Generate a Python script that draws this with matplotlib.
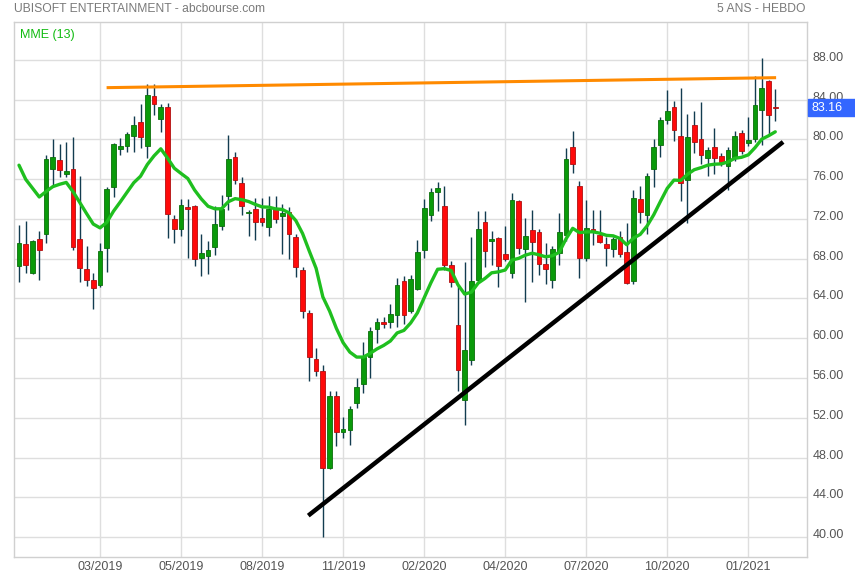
import numpy as np
import matplotlib
matplotlib.use("Agg")
import matplotlib.pyplot as plt
from matplotlib.patches import Rectangle
from matplotlib.transforms import ScaledTranslation

plt.rcParams["font.family"] = ["Liberation Sans", "DejaVu Sans"]

# weekly candles, Ubisoft, Dec 2018 -> Feb 2021
opens = [67.3, 69.5, 66.6, 70.0, 70.5, 77.0, 77.9, 76.5, 77.0, 70.0,
         67.0, 65.9, 65.4, 69.1, 75.2, 79.0, 79.3, 80.3, 81.7, 79.3,
         84.35, 82.0, 83.3, 72.0, 71.0, 73.2, 73.3, 68.05, 68.3, 69.2,
         71.3, 74.3, 78.2, 75.6, 72.6, 73.0, 72.1, 71.2, 73.0, 72.3,
         72.7, 70.2, 66.9, 62.5, 57.9, 56.7, 47.0, 54.2, 50.55, 50.8,
         53.5, 55.4, 58.1, 60.9, 61.6, 61.6, 62.3, 65.8, 62.7, 65.0,
         68.9, 72.4, 74.7, 73.3, 67.35, 61.3, 53.8, 57.8, 65.9, 71.7,
         69.8, 70.1, 68.45, 66.55, 73.8, 68.95, 70.9, 70.7, 67.45, 65.9,
         68.55, 70.4, 79.2, 75.3, 68.05, 71.0, 70.4, 69.45, 68.95, 70.2,
         68.65, 65.8, 74.0, 72.35, 77.0, 79.4, 81.9, 83.25, 80.3, 75.95,
         81.4, 80.0, 78.1, 79.2, 78.3, 77.3, 78.1, 80.6, 79.6, 80.0,
         83.0, 85.85, 83.25]
highs = [71.4, 71.8, 69.9, 70.8, 78.4, 80.0, 79.5, 79.75, 80.25, 76.3,
         69.3, 66.6, 69.6, 75.2, 79.6, 80.1, 80.75, 82.3, 83.6, 85.6,
         85.55, 83.6, 83.7, 72.4, 74.0, 74.0, 73.4, 70.5, 69.8, 73.3,
         74.4, 80.4, 78.7, 76.2, 72.9, 74.1, 74.15, 74.3, 74.3, 73.5,
         73.2, 70.5, 67.2, 62.8, 59.0, 57.3, 54.7, 54.7, 52.1, 53.2,
         56.0, 59.6, 61.1, 62.0, 62.1, 63.4, 66.1, 66.3, 66.4, 69.9,
         74.0, 75.1, 75.7, 75.3, 67.8, 65.3, 67.65, 70.2, 72.8, 72.8,
         70.8, 70.2, 71.3, 74.6, 73.9, 72.1, 72.85, 71.0, 69.55, 69.3,
         72.6, 79.1, 80.8, 75.8, 73.9, 72.9, 72.9, 70.2, 70.2, 70.8,
         71.6, 74.9, 75.3, 76.6, 80.0, 82.2, 85.0, 83.85, 85.15, 82.5,
         82.9, 83.75, 79.2, 81.1, 78.6, 79.2, 80.8, 80.9, 82.2, 86.4,
         88.15, 85.95, 85.1]
lows = [65.7, 66.6, 66.5, 65.9, 69.6, 75.4, 76.2, 76.2, 68.9, 65.7,
        65.3, 62.9, 65.2, 66.7, 74.25, 78.4, 78.7, 78.7, 79.1, 78.1,
        82.4, 80.7, 70.1, 69.6, 70.3, 68.05, 67.3, 66.3, 66.5, 68.4,
        70.9, 72.9, 75.5, 72.4, 70.3, 69.9, 71.3, 70.3, 71.6, 68.5,
        68.0, 66.2, 62.0, 55.7, 56.25, 40.0, 46.8, 49.2, 50.0, 49.3,
        53.0, 54.5, 56.0, 59.5, 61.0, 61.0, 61.1, 61.4, 62.5, 64.8,
        68.05, 71.8, 72.8, 66.9, 65.2, 54.7, 51.25, 57.3, 65.6, 67.2,
        67.35, 65.2, 67.8, 66.1, 68.5, 63.6, 65.7, 66.4, 65.5, 65.1,
        67.35, 69.8, 76.6, 66.1, 67.75, 69.4, 69.55, 67.25, 68.15, 68.15,
        65.5, 65.5, 71.6, 70.5, 75.25, 78.2, 81.5, 79.8, 73.75, 71.6,
        78.6, 77.5, 76.35, 76.5, 77.3, 74.9, 77.8, 78.5, 79.3, 79.7,
        79.4, 80.5, 81.8]
closes = [69.6, 67.4, 69.8, 68.9, 78.0, 78.2, 76.9, 76.8, 69.2, 67.1,
          65.9, 65.1, 68.8, 75.0, 79.5, 79.3, 80.5, 81.4, 80.2, 84.5,
          83.6, 83.3, 72.5, 71.0, 73.4, 73.0, 68.0, 68.6, 68.85, 71.5,
          73.0, 78.0, 75.9, 73.3, 72.65, 71.7, 71.7, 73.0, 72.0, 72.6,
          70.5, 67.2, 62.7, 58.1, 56.7, 46.9, 54.2, 50.6, 50.9, 52.9,
          55.1, 58.1, 60.7, 61.6, 61.4, 62.4, 65.4, 62.3, 66.0, 68.65,
          73.1, 74.7, 75.1, 67.35, 65.7, 56.8, 58.8, 65.8, 71.0, 68.8,
          70.0, 67.25, 67.95, 73.9, 69.05, 70.3, 69.7, 67.45, 66.95, 68.95,
          70.7, 78.0, 77.5, 68.05, 71.1, 70.8, 69.7, 69.05, 70.0, 68.45,
          65.6, 74.1, 72.65, 76.3, 79.2, 81.9, 82.9, 80.9, 75.65, 80.2,
          79.7, 78.4, 78.9, 78.1, 77.7, 78.9, 80.3, 78.8, 79.9, 83.5,
          85.15, 82.4, 83.16]
tick_labels = ["03/2019", "05/2019", "08/2019", "11/2019", "02/2020",
               "04/2020", "07/2020", "10/2020", "01/2021"]
ema_start = 77.4  # MME(13) value on first visible week

# hand-drawn lines (candle index, price)
resist_idx = [13.2, 111.9]
resist_px = [85.2, 86.2]
support_idx = [43.1, 112.9]
support_px = [42.3, 79.6]

o = np.array(opens); h = np.array(highs); l = np.array(lows); c = np.array(closes)
n = len(c)
x = np.arange(n)

ema = [ema_start]
for v in c[1:]:
    ema.append(ema[-1] + (v - ema[-1]) * 2 / 14)

fig = plt.figure(figsize=(8.55, 5.8), dpi=100)
ax = fig.add_axes([14 / 855, 23 / 580, 793 / 855, 535 / 580])

ax.set_xlim(-0.74, 116.7)
ax.set_ylim(38.0, 91.8)
ax.set_yticks(np.arange(40, 89, 4))
ax.set_yticklabels([f"{t:.2f}" for t in np.arange(40, 89, 4)])
ax.set_xticks(np.arange(12, 12 * len(tick_labels) + 1, 12))
ax.set_xticklabels(tick_labels)
ax.yaxis.tick_right()
ax.tick_params(length=0, labelsize=9, colors="#555555")
ax.tick_params(axis="y", pad=4)
ax.tick_params(axis="x", pad=3)
# labels sit a touch above their gridline in the original
for lab in ax.get_yticklabels():
    lab.set_transform(lab.get_transform() + ScaledTranslation(0, 2.5 / 72, fig.dpi_scale_trans))
ax.grid(color="#dedede", lw=1.0)
ax.set_axisbelow(True)
for s in ax.spines.values():
    s.set_color("#d0d0d0")
    s.set_linewidth(1.0)

up = c >= o
lo = np.minimum(o, c)
hgt = np.maximum(np.abs(c - o), 0.12)
ax.vlines(x, l, h, color="#123c50", lw=1.0, zorder=2)
ax.bar(x[up], hgt[up], bottom=lo[up], width=0.7, color="#0a9a0a",
       edgecolor="#0b6e0b", lw=0.6, zorder=3)
ax.bar(x[~up], hgt[~up], bottom=lo[~up], width=0.7, color="#ff0a0a",
       edgecolor="#b01010", lw=0.6, zorder=3)

ax.plot(x, ema, color="#1fbf1f", lw=2.4, zorder=4, solid_capstyle="round")
ax.plot(resist_idx, resist_px, color="#ff8a00", lw=2.2, zorder=5)
ax.plot(support_idx, support_px, color="black", lw=3.2, zorder=5)

# last price tag on the right axis
last = c[-1]
ax.add_patch(Rectangle((1.0013, last - 0.85), 0.06, 1.7, transform=ax.get_yaxis_transform(),
                       color="#3366ff", clip_on=False, zorder=6))
ax.text(1.006, last, f"{last:.2f}", transform=ax.get_yaxis_transform(), color="white",
        fontsize=9, va="center", ha="left", zorder=7, clip_on=False)

fig.text(14 / 855, 1 - 9 / 580, "UBISOFT ENTERTAINMENT - abcbourse.com", color="#7a7a7a",
         fontsize=8.7, va="center", ha="left")
fig.text(805 / 855, 1 - 9 / 580, "5 ANS - HEBDO", color="#7a7a7a",
         fontsize=8.7, va="center", ha="right")
ax.text(0.008, 0.975, "MME (13)", transform=ax.transAxes, color="#11bb11",
        fontsize=9, va="center", ha="left")

fig.savefig("out.png", dpi=100)
